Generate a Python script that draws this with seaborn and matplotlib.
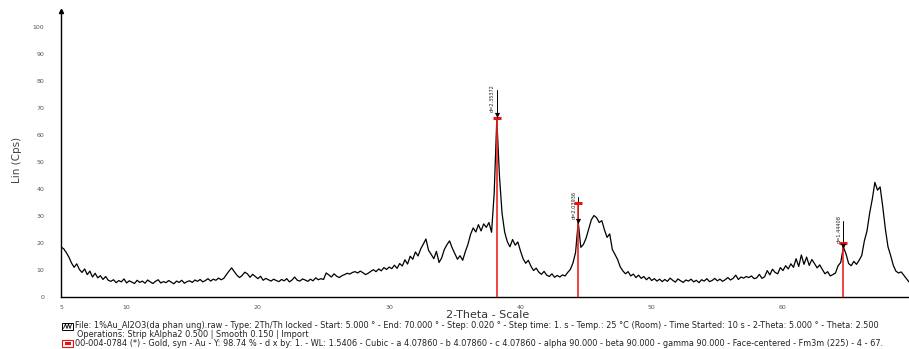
# XRD pattern of 1%Au/Al2O3 with Au reference sticks (00-004-0784)

import numpy as np
import seaborn as sns
from matplotlib import pyplot as plt
from matplotlib.patches import Rectangle
from matplotlib.lines import Line2D
from matplotlib.ticker import MultipleLocator, FixedLocator

# 2-theta grid (deg), 0.2 deg steps
two_theta = np.round(np.arange(5.0, 69.61, 0.2), 1)

# intensity, one row = 2 deg
counts = [
    18.5, 17.9, 16.5, 14.8, 12.6, 11.0, 12.3, 10.2, 9.1, 10.4,
    8.3, 9.6, 7.4, 8.8, 7.1, 7.9, 6.5, 7.6, 6.2, 5.8,
    6.4, 5.3, 6.1, 5.6, 6.7, 5.2, 6.0, 5.5, 5.0, 6.2,
    5.4, 5.9, 5.1, 6.3, 5.6, 5.0, 5.8, 6.4, 5.2, 5.7,
    5.3, 6.1, 5.5, 4.9, 5.9, 5.4, 6.2, 5.1, 5.7, 6.0,
    5.4, 6.3, 5.8, 6.5, 5.6, 6.1, 6.8, 5.9, 6.6, 6.2,
    7.0, 6.4, 6.9, 8.3, 9.6, 10.8, 9.4, 8.1, 7.2, 8.0,
    9.2, 8.6, 7.3, 8.4, 7.6, 6.8, 7.7, 6.2, 6.9, 6.4,
    5.9, 6.6, 6.1, 5.7, 6.5, 6.0, 6.8, 5.6, 6.3, 7.4,
    6.2, 5.9, 6.7, 6.3, 5.8, 6.6, 6.0, 7.1, 6.4, 6.8,
    6.5, 8.9, 8.2, 7.4, 8.6, 7.7, 7.2, 7.9, 8.3, 8.8,
    8.5, 9.1, 9.4, 8.9, 9.6, 9.0, 8.3, 8.8, 9.5, 10.1,
    9.4, 10.4, 9.7, 10.9, 10.2, 11.1, 10.5, 11.8, 10.6, 12.4,
    11.5, 13.8, 12.2, 15.1, 14.0, 16.7, 15.2, 17.8, 19.6, 21.5,
    17.3, 15.8, 14.2, 16.9, 12.8, 14.5, 17.6, 19.4, 20.8, 18.2,
    16.1, 14.0, 15.3, 13.6, 16.8, 19.5, 23.2, 25.6, 24.1, 26.8,
    24.5, 27.1, 25.8, 27.6, 24.0, 38.5, 66.0, 45.0, 31.0, 24.0,
    20.5, 18.6, 21.3, 19.2, 20.4, 17.1, 14.2, 12.5, 13.6, 11.4,
    9.8, 10.7, 9.2, 8.4, 9.5, 8.1, 7.6, 8.6, 7.3, 8.0,
    7.4, 8.2, 7.8, 9.1, 10.2, 12.6, 16.5, 27.8, 18.4, 19.5,
    21.8, 25.2, 28.6, 30.2, 29.4, 27.6, 28.3, 24.9, 22.1, 23.4,
    17.6, 15.8, 13.9, 11.2, 9.7, 8.6, 9.4, 7.8, 8.5, 7.2,
    8.1, 6.9, 7.6, 6.4, 7.3, 6.1, 6.8, 5.9, 6.6, 5.7,
    6.5, 5.8, 7.0, 6.2, 5.5, 6.7, 6.0, 5.4, 6.3, 5.9,
    6.6, 5.6, 6.2, 5.3, 6.4, 5.9, 6.8, 5.7, 6.1, 6.9,
    6.0, 6.6, 5.8, 6.4, 7.2, 6.3, 6.9, 8.1, 6.5, 7.4,
    7.0, 7.6, 7.2, 7.8, 6.8, 7.1, 8.4, 6.9, 7.5, 9.8,
    8.2, 10.3, 9.1, 8.6, 10.9, 9.8, 11.6, 10.4, 12.3, 11.0,
    14.2, 11.3, 15.6, 12.1, 14.8, 11.7, 13.9, 12.4, 10.8, 11.9,
    10.2, 8.6, 9.4, 7.8, 8.3, 8.9, 11.6, 12.8, 18.5, 16.0,
    12.4, 11.6, 13.2, 12.1, 13.6, 15.4, 20.8, 24.5, 31.0, 36.2,
    42.5, 39.6, 40.8, 33.5, 25.2, 18.6, 15.4, 11.8, 9.6, 8.9,
    9.3, 8.1, 6.8, 5.6,
]

# Gold reference pattern sticks
ref_pos = [38.184, 44.392, 64.576]
ref_height = [66.5, 35.0, 20.0]

# d-spacing labels put on the measured peaks
peak_pos = [38.20, 44.40, 64.60]
peak_top = [67.6, 28.0, 19.0]
peak_d = ['d=2.35372', 'd=2.03936', 'd=1.44408']

legend_line1 = ("File: 1%Au_Al2O3(da phan ung).raw - Type: 2Th/Th locked - Start: 5.000 \u00b0 - "
                "End: 70.000 \u00b0 - Step: 0.020 \u00b0 - Step time: 1. s - Temp.: 25 \u00b0C (Room) - "
                "Time Started: 10 s - 2-Theta: 5.000 \u00b0 - Theta: 2.500")
legend_line2 = "Operations: Strip kAlpha2 0.500 | Smooth 0.150 | Import"
legend_line3 = ("00-004-0784 (*) - Gold, syn - Au - Y: 98.74 % - d x by: 1. - WL: 1.5406 - Cubic - "
                "a 4.07860 - b 4.07860 - c 4.07860 - alpha 90.000 - beta 90.000 - gamma 90.000 - "
                "Face-centered - Fm3m (225) - 4 - 67.")

sns.set_style('white')
W, H = 909, 349
fig = plt.figure(figsize=(W / 100, H / 100), dpi=100)
ax = fig.add_axes([61 / W, 1 - 297 / H, (W - 61) / W, (297 - 11) / H])

sns.lineplot(x=two_theta, y=counts, color='black', linewidth=0.9, ax=ax)

# reference sticks with small cap on top
ax.vlines(ref_pos, 0, ref_height, colors='#ee2222', linewidth=1.2, zorder=3)
ax.plot(ref_pos, ref_height, linestyle='none', marker='_', markersize=6,
        markeredgewidth=2.2, color='#ee1111', zorder=4)

# peak markers with d labels
ax.scatter(peak_pos, peak_top, marker='v', s=14, color='black', zorder=5, linewidths=0)
for p, t, d in zip(peak_pos, peak_top, peak_d):
    ax.plot([p, p], [t, t + 9], color='black', linewidth=0.7)
    ax.text(p - 0.12, t + 1.0, d, rotation=90, ha='right', va='bottom',
            fontsize=3.6, color='#222222')

ax.set_xlim(5, 69.6)
ax.set_ylim(0, 106)
ax.xaxis.set_major_locator(FixedLocator([5, 10, 20, 30, 40, 50, 60]))
ax.xaxis.set_minor_locator(MultipleLocator(1))
ax.yaxis.set_major_locator(MultipleLocator(10))
ax.yaxis.set_minor_locator(MultipleLocator(2))
ax.tick_params(axis='both', which='major', direction='out', length=3, width=0.8,
               labelsize=4.5, labelcolor='#555555', color='black')
ax.tick_params(axis='both', which='minor', direction='out', length=1.6, width=0.6, color='black')
ax.tick_params(axis='y', which='major', pad=9)
ax.tick_params(axis='x', which='major', pad=2.5)
for s in ['top', 'right']:
    ax.spines[s].set_visible(False)
for s in ['left', 'bottom']:
    ax.spines[s].set_linewidth(1.0)
    ax.spines[s].set_color('black')
ax.plot([5], [106], marker='^', markersize=3, color='black', clip_on=False)

ax.set_xlabel('')
ax.set_ylabel('')
fig.text(17 / W, 1 - 160 / H, 'Lin (Cps)', rotation=90, ha='center', va='center',
         fontsize=7.5, color='#444444')
fig.text(488 / W, 1 - 314.5 / H, '2-Theta - Scale', ha='center', va='center',
         fontsize=8, color='#333333')

# legend block under the axis
fs_leg = 5.9
fig.text(75 / W, 1 - 326 / H, legend_line1, ha='left', va='center', fontsize=fs_leg, color='#222222')
fig.text(77 / W, 1 - 334.5 / H, legend_line2, ha='left', va='center', fontsize=fs_leg, color='#222222')
fig.text(75 / W, 1 - 343 / H, legend_line3, ha='left', va='center', fontsize=fs_leg, color='#222222')

fig.patches.append(Rectangle((62 / W, 1 - 330 / H), 11 / W, 7 / H, transform=fig.transFigure,
                             fill=False, edgecolor='black', linewidth=0.7))
fig.lines.append(Line2D([63.5 / W, 65.5 / W, 67 / W, 68.5 / W, 70 / W, 71.5 / W],
                        [1 - 328.5 / H, 1 - 324 / H, 1 - 328.5 / H, 1 - 324 / H, 1 - 328.5 / H, 1 - 324 / H],
                        transform=fig.transFigure, color='black', linewidth=0.6))
fig.patches.append(Rectangle((62 / W, 1 - 346.5 / H), 11 / W, 7 / H, transform=fig.transFigure,
                             fill=False, edgecolor='#ee1111', linewidth=0.8))
fig.patches.append(Rectangle((64.5 / W, 1 - 344.5 / H), 6 / W, 3 / H, transform=fig.transFigure,
                             facecolor='#ee1111', edgecolor='none'))

plt.savefig('out.png', dpi=100)
